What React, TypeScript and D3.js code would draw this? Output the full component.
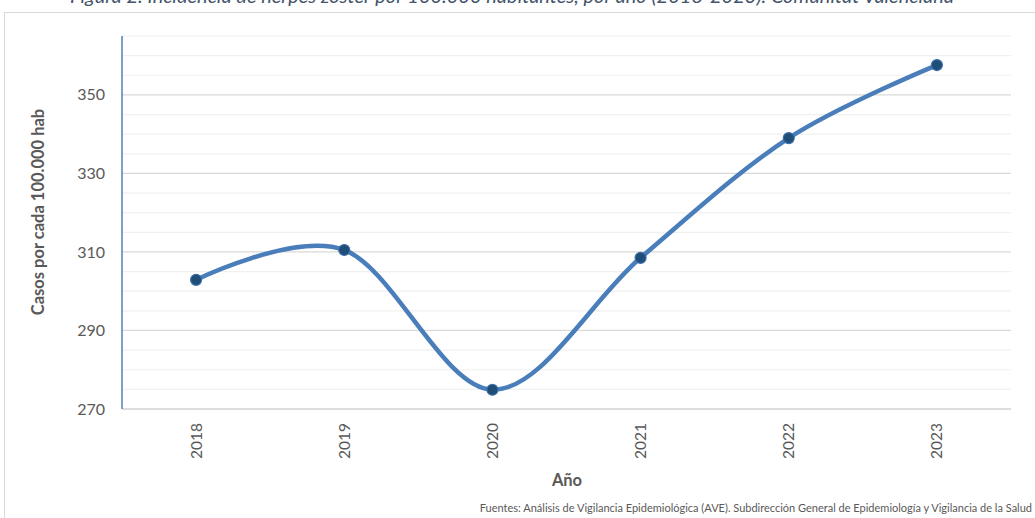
import React from "react";
import * as d3 from "d3";

const years = ["2018", "2019", "2020", "2021", "2022", "2023"];
const rates = [302.9, 310.5, 274.9, 308.5, 339.0, 357.6];
const yTicks = [270, 290, 310, 330, 350];
const yMinorTicks = [275, 280, 285, 295, 300, 305, 315, 320, 325, 335, 340, 345, 355, 360, 365];

const W = 1035;
const H = 518;
const FONT = "Lato, 'Open Sans', sans-serif";

export default function App() {
  const left = 122;
  const right = 1011;
  const top = 36;
  const bottom = 409;

  const x = d3.scaleBand<string>().domain(years).range([left, right]);
  const y = d3.scaleLinear().domain([270, 365]).range([bottom, top]);
  const cx = (d: string) => (x(d) as number) + x.bandwidth() / 2;

  const line = d3
    .line<number>()
    .x((_, i) => cx(years[i]))
    .y((d) => y(d))
    .curve(d3.curveCatmullRom.alpha(0));

  return (
    <svg
      width={W}
      height={H}
      style={{ position: "absolute", left: 0, top: 0, display: "block", background: "#fff" }}
    >
      <text
        x={512}
        y={3}
        textAnchor="middle"
        fontFamily={FONT}
        fontStyle="italic"
        fontSize={20}
        fill="#44546a"
      >
        Figura 2. Incidencia de herpes zóster por 100.000 habitantes, por año (2018-2023). Comunitat Valenciana
      </text>
      <rect x={4.5} y={12.5} width={W + 20} height={H + 20} fill="none" stroke="#d9d9d9" strokeWidth={1} />

      {yMinorTicks.map((t) => (
        <line key={"m" + t} x1={left} x2={right} y1={y(t)} y2={y(t)} stroke="#f0f0f0" strokeWidth={1.2} />
      ))}
      {yTicks.map((t) => (
        <line key={"M" + t} x1={left} x2={right} y1={y(t)} y2={y(t)} stroke="#d9d9d9" strokeWidth={1.2} />
      ))}
      <line x1={left} x2={right} y1={bottom} y2={bottom} stroke="#d9d9d9" strokeWidth={1.5} />
      <line x1={left} x2={left} y1={top} y2={bottom} stroke="#4f81bd" strokeWidth={1.5} />

      {yTicks.map((t) => (
        <text
          key={"l" + t}
          x={105}
          y={y(t)}
          dy="0.35em"
          textAnchor="end"
          fontFamily={FONT}
          fontSize={16}
          fill="#595959"
        >
          {t}
        </text>
      ))}

      {years.map((yr) => (
        <text
          key={"x" + yr}
          transform={`translate(${cx(yr)},${423}) rotate(-90)`}
          dy="0.35em"
          textAnchor="end"
          fontFamily={FONT}
          fontSize={15.5}
          fill="#595959"
        >
          {yr}
        </text>
      ))}

      <text
        transform={`translate(38,212) rotate(-90)`}
        dy="0.35em"
        textAnchor="middle"
        fontFamily={FONT}
        fontWeight="bold"
        fontSize={16.5}
        fill="#595959"
      >
        Casos por cada 100.000 hab
      </text>
      <text
        x={567}
        y={480}
        dy="0.35em"
        textAnchor="middle"
        fontFamily={FONT}
        fontWeight="bold"
        fontSize={16.5}
        fill="#595959"
      >
        Año
      </text>
      <text
        x={1032}
        y={508}
        dy="0.35em"
        textAnchor="end"
        fontFamily={FONT}
        fontSize={11}
        fill="#595959"
      >
        Fuentes: Análisis de Vigilancia Epidemiológica (AVE). Subdirección General de Epidemiología y Vigilancia de la Salud
      </text>

      <path d={line(rates) || ""} fill="none" stroke="#4a7ebb" strokeWidth={4.5} strokeLinecap="round" />
      {rates.map((v, i) => (
        <circle key={"c" + i} cx={cx(years[i])} cy={y(v)} r={5.5} fill="#1f4e79" stroke="#3c6ea8" strokeWidth={1.2} />
      ))}
    </svg>
  );
}
